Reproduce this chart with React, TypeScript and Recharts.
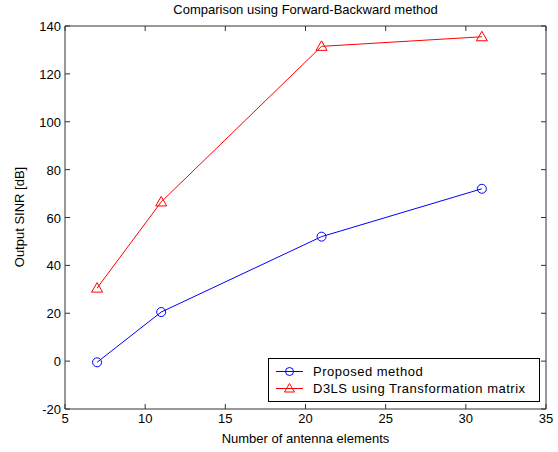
import { LineChart, Line, XAxis, YAxis, ReferenceLine } from "recharts";

const elements = [7, 11, 21, 31];
const proposed = [-0.5, 20.5, 52, 72];
const d3ls = [30.5, 66.5, 131.5, 135.5];
const xTicks = [5, 10, 15, 20, 25, 30, 35];
const yTicks = [-20, 0, 20, 40, 60, 80, 100, 120, 140];

const data = elements.map((n, i) => ({ n, proposed: proposed[i], d3ls: d3ls[i] }));

const font = "'Liberation Sans', Arial, sans-serif";
const axisColor = "#333";

// plot box, from chart margins
const W = 558;
const H = 452;
const M = { top: 26, right: 12, left: 25, bottom: 23 };
const PLOT_TOP = M.top;
const PLOT_RIGHT = W - M.right;
const TICK = 5;

const Circle = (props: any) => {
  const { cx, cy } = props;
  if (cx == null || cy == null) return null;
  return <circle cx={cx} cy={cy} r={4.5} fill="none" stroke="#0000ff" strokeWidth={1} />;
};

const Triangle = (props: any) => {
  const { cx, cy } = props;
  if (cx == null || cy == null) return null;
  return (
    <path
      d={`M${cx},${cy - 5.5} L${cx + 5.5},${cy + 4} L${cx - 5.5},${cy + 4} Z`}
      fill="none"
      stroke="#ff0000"
      strokeWidth={1}
    />
  );
};

// matlab style: ticks point inward, on both sides of the box
const XTick = (props: any) => {
  const { x, y, payload } = props;
  return (
    <g>
      <line x1={x} x2={x} y1={y} y2={y - TICK} stroke={axisColor} />
      <line x1={x} x2={x} y1={PLOT_TOP} y2={PLOT_TOP + TICK} stroke={axisColor} />
      <text x={x} y={y + 14} textAnchor="middle" fontSize={13} fill="#000" fontFamily={font}>
        {payload.value}
      </text>
    </g>
  );
};

const YTick = (props: any) => {
  const { x, y, payload } = props;
  return (
    <g>
      <line x1={x} x2={x + TICK} y1={y} y2={y} stroke={axisColor} />
      <line x1={PLOT_RIGHT} x2={PLOT_RIGHT - TICK} y1={y} y2={y} stroke={axisColor} />
      <text x={x - 4} y={y + 5} textAnchor="end" fontSize={13} fill="#000" fontFamily={font}>
        {payload.value}
      </text>
    </g>
  );
};

const legendItems = [
  { label: "Proposed method", color: "#0000ff", shape: "circle" },
  { label: "D3LS using Transformation matrix", color: "#ff0000", shape: "tri" },
];

const LegendBox = () => (
  <div
    style={{
      position: "absolute",
      left: 268,
      top: 358,
      width: 272,
      height: 44,
      border: "1px solid #000",
      background: "#fff",
      fontFamily: font,
      fontSize: 13,
      letterSpacing: 0.5,
      boxSizing: "border-box",
    }}
  >
    {legendItems.map((item, i) => (
      <div key={i} style={{ display: "flex", alignItems: "center", height: 17, marginTop: i === 0 ? 4 : 0 }}>
        <svg width={44} height={17} style={{ flex: "none" }}>
          <line x1={7} x2={34} y1={8.5} y2={8.5} stroke={item.color} />
          {item.shape === "circle" ? (
            <circle cx={20.5} cy={8.5} r={4} fill="none" stroke={item.color} />
          ) : (
            <path d="M20.5,3.5 L25.5,12 L15.5,12 Z" fill="none" stroke={item.color} />
          )}
        </svg>
        <span style={{ color: "#000", whiteSpace: "nowrap" }}>{item.label}</span>
      </div>
    ))}
  </div>
);

const labelStyle = {
  position: "absolute" as const,
  fontFamily: font,
  fontSize: 13,
  color: "#000",
  whiteSpace: "nowrap" as const,
};

export default function App() {
  return (
    <div style={{ position: "absolute", left: 0, top: 0, width: W, height: H, background: "#fff" }}>
      <LineChart width={W} height={H} data={data} margin={M} style={{ fontFamily: font }}>
        <XAxis
          dataKey="n"
          type="number"
          domain={[5, 35]}
          ticks={xTicks}
          height={20}
          tickLine={false}
          tickSize={0}
          tickMargin={0}
          stroke={axisColor}
          tick={<XTick />}
          interval={0}
        />
        <YAxis
          type="number"
          domain={[-20, 140]}
          ticks={yTicks}
          width={40}
          tickLine={false}
          tickSize={0}
          tickMargin={0}
          stroke={axisColor}
          tick={<YTick />}
          interval={0}
        />
        <ReferenceLine y={140} stroke={axisColor} ifOverflow="extendDomain" />
        <ReferenceLine x={35} stroke={axisColor} ifOverflow="extendDomain" />
        <Line
          dataKey="proposed"
          stroke="#0000ff"
          strokeWidth={1}
          dot={<Circle />}
          activeDot={false}
          isAnimationActive={false}
        />
        <Line
          dataKey="d3ls"
          stroke="#ff0000"
          strokeWidth={1}
          dot={<Triangle />}
          activeDot={false}
          isAnimationActive={false}
        />
      </LineChart>
      <LegendBox />
      <div style={{ ...labelStyle, left: 65, width: 481, top: 2, textAlign: "center" }}>
        Comparison using Forward-Backward method
      </div>
      <div style={{ ...labelStyle, left: 65, width: 481, top: 431, textAlign: "center" }}>
        Number of antenna elements
      </div>
      <div
        style={{
          ...labelStyle,
          left: 19,
          top: 217,
          transform: "translate(-50%, -50%) rotate(-90deg)",
        }}
      >
        Output SINR [dB]
      </div>
    </div>
  );
}
